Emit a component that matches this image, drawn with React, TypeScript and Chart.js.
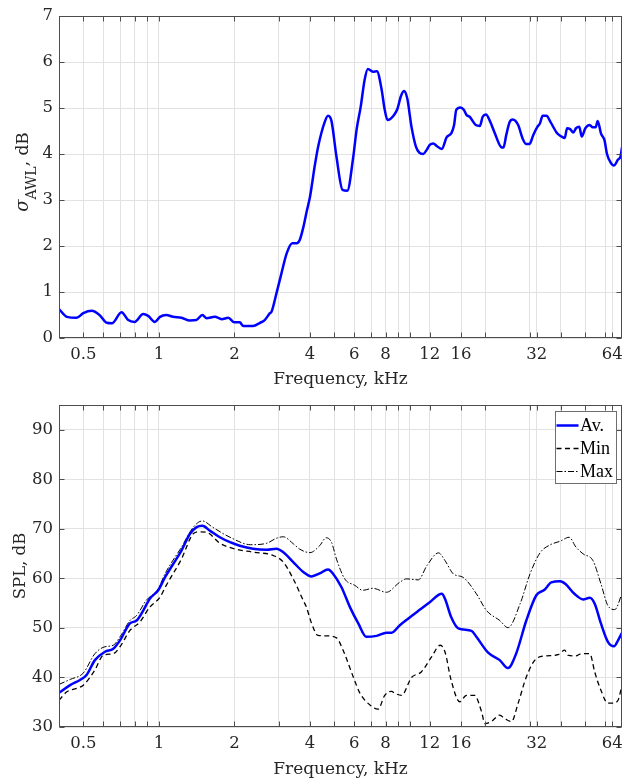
import React, { useEffect, useRef } from 'react';
import { Chart, registerables } from 'chart.js';
Chart.register(...registerables);

const FONT = '"DejaVu Serif", serif';
const LEGEND_FONT = '"Liberation Serif", serif';
const TEXT = '#262626';
const GRID = '#e2e2e2';
const BOX = '#4d4d4d';

// x axis (kHz, log)
const xTickValues = [0.5, 0.6, 0.7, 0.8, 0.9, 1, 2, 3, 4, 5, 6, 7, 8, 9, 10, 12, 16, 20, 30, 32, 40, 50, 60, 64];
const xLabeledValues = [0.5, 1, 2, 4, 6, 8, 12, 16, 32, 64];
const xLabelTexts = ['0.5', '1', '2', '4', '6', '8', '12', '16', '32', '64'];

// top chart: sigma_AWL
const sigmaFreq = [0.4, 0.43, 0.47, 0.5, 0.54, 0.58, 0.62, 0.65, 0.71, 0.755, 0.8, 0.866, 0.906, 0.964, 1.01, 1.07, 1.14, 1.23, 1.33, 1.41, 1.49, 1.55, 1.67, 1.78, 1.89, 2.0, 2.1, 2.17, 2.37, 2.53, 2.64, 2.77, 2.81, 2.94, 3.08, 3.23, 3.4, 3.54, 3.64, 3.76, 3.88, 4.0, 4.18, 4.31, 4.58, 4.72, 4.87, 5.1, 5.39, 5.63, 5.95, 6.13, 6.37, 6.6, 6.8, 7.12, 7.39, 7.7, 7.94, 8.14, 8.65, 8.93, 9.2, 9.47, 9.76, 10.15, 10.57, 10.9, 11.3, 11.67, 12.0, 12.4, 12.75, 13.4, 14.0, 14.65, 15.0, 15.3, 15.9, 16.4, 16.8, 17.3, 18.3, 19.0, 19.5, 20.1, 20.9, 21.8, 23.1, 23.6, 24.2, 25.0, 25.7, 27.0, 28.1, 29.0, 30.0, 31.0, 32.2, 33.0, 33.8, 35.0, 36.3, 38.6, 40.2, 41.4, 42.3, 43.5, 44.8, 45.9, 47.3, 48.4, 50.0, 52.0, 53.5, 55.0, 56.0, 57.7, 59.6, 61.0, 63.0, 65.0, 67.5, 69.0, 70.0];
const sigmaVals = [0.63, 0.46, 0.44, 0.54, 0.59, 0.5, 0.33, 0.32, 0.56, 0.39, 0.35, 0.52, 0.48, 0.35, 0.46, 0.5, 0.46, 0.44, 0.38, 0.39, 0.5, 0.43, 0.46, 0.41, 0.44, 0.34, 0.34, 0.26, 0.26, 0.33, 0.39, 0.54, 0.57, 0.97, 1.41, 1.84, 2.06, 2.06, 2.13, 2.4, 2.75, 3.07, 3.75, 4.16, 4.7, 4.83, 4.72, 3.94, 3.22, 3.2, 3.94, 4.52, 5.03, 5.61, 5.85, 5.79, 5.8, 5.43, 4.96, 4.74, 4.85, 4.99, 5.25, 5.37, 5.21, 4.59, 4.16, 4.03, 4.0, 4.09, 4.2, 4.23, 4.18, 4.11, 4.36, 4.46, 4.63, 4.96, 5.01, 4.96, 4.85, 4.81, 4.63, 4.61, 4.81, 4.86, 4.7, 4.45, 4.15, 4.14, 4.41, 4.7, 4.75, 4.63, 4.34, 4.22, 4.22, 4.41, 4.59, 4.67, 4.83, 4.83, 4.7, 4.45, 4.38, 4.35, 4.56, 4.54, 4.47, 4.56, 4.59, 4.38, 4.56, 4.63, 4.58, 4.58, 4.72, 4.45, 4.3, 4.0, 3.82, 3.75, 3.88, 3.94, 4.14];

// bottom chart: SPL
const avFreq = [0.4, 0.443, 0.485, 0.515, 0.556, 0.61, 0.658, 0.7, 0.767, 0.815, 0.866, 0.92, 0.994, 1.057, 1.14, 1.23, 1.33, 1.41, 1.49, 1.6, 1.75, 1.92, 2.1, 2.37, 2.69, 2.94, 3.13, 3.43, 3.76, 4.06, 4.37, 4.72, 4.95, 5.34, 5.77, 6.23, 6.71, 7.36, 8.07, 8.46, 9.1, 9.86, 10.97, 12.0, 13.4, 13.8, 14.6, 15.6, 17.6, 18.4, 20.5, 22.8, 24.6, 26.5, 29.1, 31.9, 34.4, 36.6, 39.7, 41.8, 45.2, 49.0, 52.1, 54.5, 57.7, 61.5, 65.1, 67.5, 70];
const avVals = [36.9, 38.45, 39.5, 40.5, 43.5, 45.2, 45.8, 47.5, 50.9, 51.5, 53.5, 55.9, 57.6, 60.2, 62.9, 65.6, 69, 70.3, 70.6, 69.6, 68.3, 67.3, 66.6, 66, 65.8, 66, 65.3, 63.3, 61.3, 60.4, 61, 61.8, 60.9, 58.2, 54.2, 50.9, 48.2, 48.4, 49.05, 49.05, 50.5, 51.9, 53.7, 55.2, 56.9, 55.9, 52.2, 49.9, 49.4, 48.2, 45, 43.5, 41.9, 44.8, 51.5, 56.6, 57.7, 59.2, 59.4, 58.8, 56.9, 55.75, 56.1, 54.9, 50.9, 47.2, 46.3, 47.5, 49];

const minFreq = [0.4, 0.43, 0.47, 0.5, 0.556, 0.6, 0.658, 0.7, 0.767, 0.84, 0.92, 1.01, 1.07, 1.23, 1.37, 1.45, 1.55, 1.75, 1.99, 2.37, 2.86, 3.13, 3.43, 3.76, 3.87, 4.06, 4.3, 4.64, 5.1, 5.42, 5.95, 6.33, 6.95, 7.47, 7.94, 8.46, 8.71, 9.27, 10.15, 11.1, 12.2, 13.2, 13.8, 14.6, 15.8, 16.8, 18.1, 19.3, 19.9, 21.1, 22.8, 23.8, 25.4, 27, 29.1, 31.9, 35, 38.9, 41.4, 42.6, 45.9, 48.1, 52.1, 54.5, 57.7, 61.5, 64.4, 67.5, 70];
const minVals = [35.4, 37.1, 37.8, 38.45, 41.5, 44.5, 44.8, 46.2, 49.5, 51.2, 54.2, 56.2, 58.6, 63.9, 69, 69.4, 69.3, 67.1, 66, 65.3, 64.6, 63.3, 59.9, 55.55, 54.2, 50.9, 48.5, 48.4, 48.0, 45.5, 40.1, 36.8, 34.4, 33.6, 36.4, 37.2, 36.8, 36.4, 40, 41.1, 44.15, 46.5, 45.15, 39.45, 35.1, 36.4, 36.4, 33.1, 30.7, 31.1, 32.4, 31.75, 31.1, 34.8, 40.1, 43.8, 44.35, 44.6, 45.5, 44.5, 44.35, 44.8, 44.8, 41.1, 37.4, 34.8, 34.8, 35.4, 38.45];

const maxFreq = [0.4, 0.443, 0.5, 0.556, 0.61, 0.658, 0.7, 0.767, 0.815, 0.89, 0.994, 1.057, 1.23, 1.37, 1.49, 1.64, 1.92, 2.32, 2.69, 2.94, 3.13, 3.43, 3.64, 4.0, 4.37, 4.64, 4.87, 5.1, 5.5, 6.03, 6.5, 7.12, 8.07, 9.1, 9.7, 10.8, 11.7, 13.0, 13.8, 14.9, 16.3, 18.4, 20.2, 22.8, 24.6, 27.5, 30.1, 33.0, 36.3, 39.7, 43.1, 45.9, 49.0, 53.6, 57.7, 61.5, 65.5, 70];
const maxVals = [38.6, 39.6, 40.9, 44.8, 46.2, 46.5, 48.2, 51.5, 52.5, 55.55, 57.9, 60.9, 66.3, 70.3, 71.6, 70.3, 68.3, 66.8, 67.1, 68.1, 68.4, 67, 65.9, 65.2, 66.6, 68.2, 67.3, 63.9, 59.9, 58.6, 57.6, 58.0, 57.2, 59.2, 59.9, 59.7, 62.6, 65.15, 63.6, 60.9, 60.2, 56.9, 53.5, 51.5, 50.05, 54.9, 60.9, 65.15, 66.8, 67.5, 68.3, 66.3, 64.95, 63.6, 58.9, 54.5, 53.7, 56.9];

const sigmaYTicks = [0, 1, 2, 3, 4, 5, 6, 7];
const splYTicks = [30, 40, 50, 60, 70, 80, 90];
const legendLabels = ['Av.', 'Min', 'Max'];

const pts = (xs: number[], ys: number[]) => xs.map((x, i) => ({ x, y: ys[i] }));

function xLabel(v: number) {
  const i = xLabeledValues.findIndex((t) => Math.abs(t - v) < 1e-6);
  return i >= 0 ? xLabelTexts[i] : '';
}

function makeScales(yMin: number, yMax: number, yTicks: number[], xAxisHeight: number) {
  return {
    x: {
      type: 'logarithmic',
      min: 0.4,
      max: 70,
      afterBuildTicks: (s: any) => {
        s.ticks = xTickValues.map((v) => ({ value: v }));
      },
      afterFit: (s: any) => {
        s.height = xAxisHeight;
        s.paddingLeft = 0;
        s.paddingRight = 0;
      },
      ticks: {
        autoSkip: false,
        maxRotation: 0,
        minRotation: 0,
        padding: 7,
        color: TEXT,
        font: { family: FONT, size: 16.5 },
        callback: (v: any) => xLabel(Number(v)),
      },
      grid: { color: GRID, drawTicks: false },
      border: { display: false },
    },
    y: {
      type: 'linear',
      min: yMin,
      max: yMax,
      afterBuildTicks: (s: any) => {
        s.ticks = yTicks.map((v) => ({ value: v }));
      },
      afterFit: (s: any) => {
        s.width = 59;
        s.paddingTop = 0;
        s.paddingBottom = 0;
      },
      ticks: {
        padding: 6,
        color: TEXT,
        font: { family: FONT, size: 16.5 },
      },
      grid: { color: GRID, drawTicks: false },
      border: { display: false },
    },
  };
}

function framePlugin(kind: 'top' | 'bottom') {
  return {
    id: 'frame' + kind,
    afterDraw(chart: any) {
      const { ctx, chartArea: a, scales } = chart;
      const xs = scales.x;
      const ys = scales.y;
      ctx.save();
      ctx.strokeStyle = BOX;
      ctx.lineWidth = 1;
      ctx.beginPath();
      const L = Math.round(a.left) + 0.5;
      const R = Math.round(a.right) - 0.5;
      const T = Math.round(a.top) + 0.5;
      const B = Math.round(a.bottom) - 0.5;
      for (const v of xTickValues) {
        const px = Math.round(xs.getPixelForValue(v)) + 0.5;
        ctx.moveTo(px, T);
        ctx.lineTo(px, T + 5);
        ctx.moveTo(px, B);
        ctx.lineTo(px, B - 5);
      }
      for (const t of ys.ticks) {
        const py = Math.round(ys.getPixelForValue(t.value)) + 0.5;
        ctx.moveTo(L, py);
        ctx.lineTo(L + 5, py);
        ctx.moveTo(R, py);
        ctx.lineTo(R - 5, py);
      }
      ctx.stroke();
      ctx.strokeRect(L, T, R - L, B - T);

      // x title
      ctx.fillStyle = TEXT;
      ctx.font = `17px ${FONT}`;
      ctx.textAlign = 'center';
      ctx.textBaseline = 'middle';
      ctx.fillText('Frequency, kHz', (a.left + a.right) / 2, 380);

      const cy = (a.top + a.bottom) / 2;
      if (kind === 'top') {
        const mainF = `17px ${FONT}`;
        const sigF = `italic 18px ${FONT}`;
        const subF = `14px ${FONT}`;
        ctx.font = sigF;
        const w1 = ctx.measureText('σ').width;
        ctx.font = subF;
        const w2 = ctx.measureText('AWL').width;
        ctx.font = mainF;
        const w3 = ctx.measureText(', dB').width;
        const total = w1 + w2 + w3;
        ctx.save();
        ctx.translate(28, cy - 5);
        ctx.rotate(-Math.PI / 2);
        ctx.textAlign = 'left';
        ctx.textBaseline = 'alphabetic';
        let x0 = -total / 2;
        ctx.font = sigF;
        ctx.fillText('σ', x0, 0);
        x0 += w1;
        ctx.font = subF;
        ctx.fillText('AWL', x0, 8);
        x0 += w2;
        ctx.font = mainF;
        ctx.fillText(', dB', x0, 0);
        ctx.restore();
      } else {
        ctx.save();
        ctx.translate(25, cy);
        ctx.rotate(-Math.PI / 2);
        ctx.textAlign = 'center';
        ctx.textBaseline = 'alphabetic';
        ctx.font = `16.5px ${FONT}`;
        ctx.fillText('SPL, dB', 0, 0);
        ctx.restore();

        // legend
        const bl = Math.round(a.right) - 5.5;
        const bx = 555.5;
        const by = Math.round(a.top) + 6.5;
        const bw = bl - bx;
        const bh = 72;
        ctx.fillStyle = '#ffffff';
        ctx.fillRect(bx, by, bw, bh);
        ctx.strokeStyle = '#6e6e6e';
        ctx.lineWidth = 1;
        ctx.strokeRect(bx, by, bw, bh);
        const dsets = chart.data.datasets;
        const rows = [by + 14, by + 37, by + 60];
        for (let i = 0; i < 3; i++) {
          const d = dsets[i];
          ctx.save();
          ctx.strokeStyle = d.borderColor;
          ctx.lineWidth = d.borderWidth;
          ctx.setLineDash(d.borderDash || []);
          ctx.beginPath();
          ctx.moveTo(bx + 1, rows[i]);
          ctx.lineTo(bx + 23, rows[i]);
          ctx.stroke();
          ctx.restore();
          ctx.fillStyle = '#000000';
          ctx.font = `18px ${LEGEND_FONT}`;
          ctx.textAlign = 'left';
          ctx.textBaseline = 'middle';
          ctx.fillText(legendLabels[i], bx + 24.5, rows[i] + 1);
        }
      }
      ctx.restore();
    },
  };
}

function makeChart(canvas: HTMLCanvasElement, kind: 'top' | 'bottom') {
  const datasets =
    kind === 'top'
      ? [
          {
            data: pts(sigmaFreq, sigmaVals),
            borderColor: '#0000ff',
            borderWidth: 2.5,
            pointRadius: 0,
            cubicInterpolationMode: 'monotone',
          },
        ]
      : [
          {
            label: legendLabels[0],
            data: pts(avFreq, avVals),
            borderColor: '#0000ff',
            borderWidth: 2.5,
            pointRadius: 0,
            cubicInterpolationMode: 'monotone',
          },
          {
            label: legendLabels[1],
            data: pts(minFreq, minVals),
            borderColor: '#000000',
            borderWidth: 1.3,
            borderDash: [5, 3.5],
            pointRadius: 0,
            cubicInterpolationMode: 'monotone',
          },
          {
            label: legendLabels[2],
            data: pts(maxFreq, maxVals),
            borderColor: '#000000',
            borderWidth: 1,
            borderDash: [6, 2, 1.5, 2],
            pointRadius: 0,
            cubicInterpolationMode: 'monotone',
          },
        ];
  const scales =
    kind === 'top' ? makeScales(0, 7, sigmaYTicks, 52) : makeScales(30, 95, splYTicks, 53);
  return new Chart(canvas, {
    type: 'line',
    data: { datasets } as any,
    options: {
      responsive: false,
      animation: false,
      devicePixelRatio: 1,
      layout: { padding: { top: kind === 'top' ? 16 : 15, right: 6, left: 0, bottom: 0 } },
      plugins: { legend: { display: false }, tooltip: { enabled: false } },
      scales: scales as any,
    },
    plugins: [framePlugin(kind)],
  } as any);
}

export default function App() {
  const topRef = useRef<HTMLCanvasElement>(null);
  const botRef = useRef<HTMLCanvasElement>(null);
  useEffect(() => {
    const c1 = makeChart(topRef.current!, 'top');
    const c2 = makeChart(botRef.current!, 'bottom');
    return () => {
      c1.destroy();
      c2.destroy();
    };
  }, []);
  return (
    <div style={{ position: 'absolute', left: 0, top: 0, width: 628, height: 780, background: '#fff' }}>
      <canvas ref={topRef} width={628} height={390} style={{ display: 'block', width: 628, height: 390 }} />
      <canvas ref={botRef} width={628} height={390} style={{ display: 'block', width: 628, height: 390 }} />
    </div>
  );
}
